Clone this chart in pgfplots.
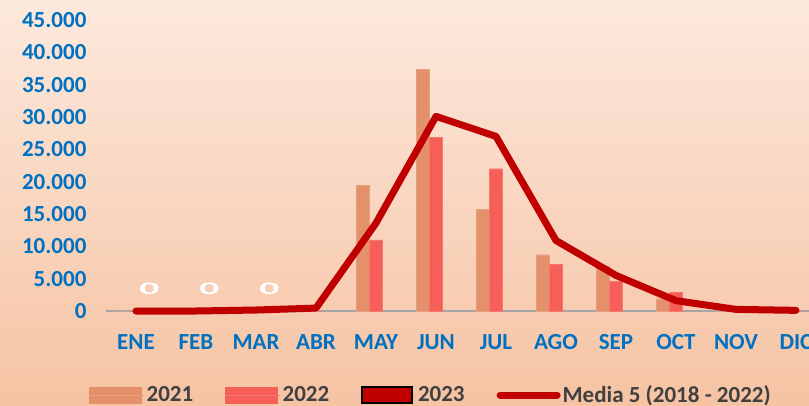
\documentclass[border=0pt]{standalone}
\usepackage{fontspec}
\setmainfont{Carlito}
\usepackage{graphicx}
\usepackage{pgfplots}
\pgfplotsset{compat=1.18}
\definecolor{bgtop}{HTML}{FCE9DD}
\definecolor{bgbot}{HTML}{F6C3A3}
\definecolor{cA}{HTML}{E3906B}
\definecolor{cB}{HTML}{F55F58}
\definecolor{cC}{HTML}{C00000}
\definecolor{tickblue}{HTML}{0070C0}
\definecolor{axgray}{HTML}{A6A6A6}
\definecolor{legtxt}{HTML}{404040}
\begin{document}
\begin{tikzpicture}[x=1pt,y=1pt]
\shade[top color=bgtop, bottom color=bgbot] (0,0) rectangle (809,405);
\begin{axis}[
  scale only axis, width=720pt, height=291pt,
  at={(106pt,94pt)}, anchor=south west,
  xmin=-0.5, xmax=11.5, ymin=0, ymax=45000,
  scaled y ticks=false,
  ybar=0pt, bar width=13.33pt,
  axis y line*=left, y axis line style={draw=none},
  axis x line*=bottom, x axis line style={draw=axgray, line width=1.2pt},
  xtick={0,...,11}, xticklabels={ENE,FEB,MAR,ABR,MAY,JUN,JUL,AGO,SEP,OCT,NOV,DIC},
  extra x ticks={-0.5,0.5,...,10.5}, extra x tick labels={},
  extra x tick style={major tick length=6pt, tick style={draw=axgray, line width=1.2pt}, tick align=outside},
  major x tick style={draw=none},
  ytick={0,5000,...,45000},
  yticklabels={0,5.000,10.000,15.000,20.000,25.000,30.000,35.000,40.000,45.000},
  major y tick style={draw=none},
  tick label style={font=\fontsize{23}{23}\selectfont\bfseries, text=tickblue},
  yticklabel style={xshift=-16pt},
  xticklabel style={yshift=-16pt},
  /pgf/number format/assume math mode=true,
  clip=false,
  legend style={at={(-17pt,-84pt)}, anchor=west, draw=none, fill=none,
    font=\fontsize{23}{23}\selectfont\bfseries, text=legtxt,
    legend cell align=left, inner sep=0pt},
  legend columns=4,
  /tikz/every even column/.append style={column sep=30pt},
]
\addplot[fill=cA, draw=cA!85!white, line width=0.4pt,
  legend image code/.code={\fill[cA] (0pt,-8pt) rectangle (52pt,8pt); \path (0pt,0pt) -- (55pt,0pt);}]
 coordinates {(0,0)(1,0)(2,0)(3,0)(4,19400)(5,37400)(6,15700)(7,8700)(8,7000)(9,1900)(10,0)(11,0)};
\addlegendentry{2021}
\addplot[fill=cB, draw=cB!85!white, line width=0.4pt,
  legend image code/.code={\fill[cB] (0pt,-8pt) rectangle (52pt,8pt); \path (0pt,0pt) -- (55pt,0pt);}]
 coordinates {(0,0)(1,0)(2,0)(3,0)(4,11000)(5,26800)(6,22000)(7,7200)(8,4600)(9,2900)(10,0)(11,0)};
\addlegendentry{2022}
\addplot[fill=cC, draw=none,
  nodes near coords={\scalebox{1.8}[0.8]{0}},
  every node near coord/.append style={text=white, font=\fontsize{22}{22}\selectfont\bfseries, yshift=13pt},
  legend image code/.code={\fill[cC, draw=black, line width=1.5pt] (0pt,-8pt) rectangle (50pt,8pt); \path (0pt,0pt) -- (54pt,0pt);}]
 coordinates {(0,0)(1,0)(2,0)};
\addlegendentry{2023}
\addplot[sharp plot, cC, line width=7pt, line cap=round, line join=round, mark=none,
  legend image code/.code={\draw[cC, line width=7pt, line cap=round] (3.5pt,0pt) -- (55.5pt,0pt); \path (0pt,0pt) -- (57pt,0pt);}]
 coordinates {(0,0)(1,0)(2,150)(3,450)(4,13600)(5,30100)(6,27000)(7,10900)(8,5500)(9,1600)(10,250)(11,100)};
\addlegendentry{Media 5 (2018 - 2022)}
\end{axis}
\pgfresetboundingbox
\path[use as bounding box] (0,0) rectangle (809,405);
\end{tikzpicture}
\end{document}
